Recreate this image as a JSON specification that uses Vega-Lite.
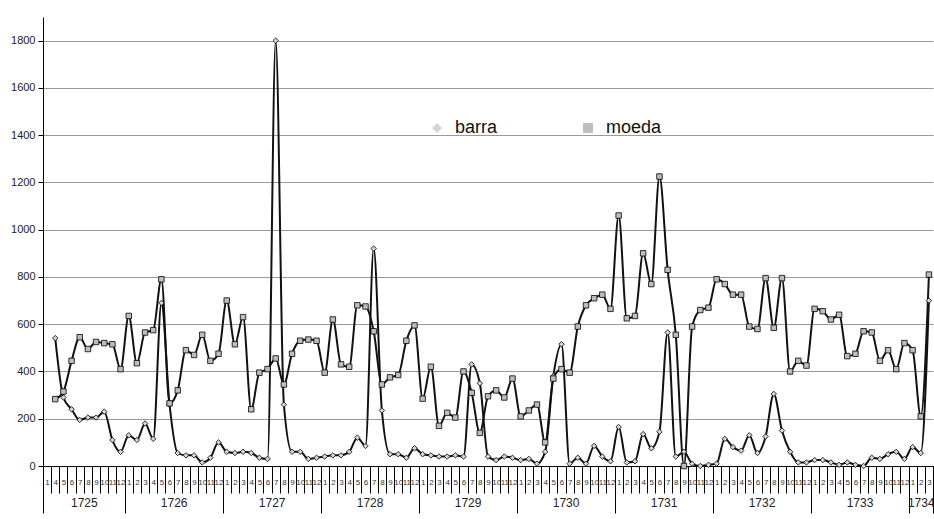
{
  "$schema": "https://vega.github.io/schema/vega-lite/v6.json",
  "width": 890,
  "height": 449,
  "autosize": {"type": "none"},
  "padding": {"left": 43, "top": 17, "right": 1, "bottom": 53},
  "background": "white",
  "config": {
    "font": "Liberation Sans",
    "view": {"stroke": null},
    "axis": {"labelColor": "#222", "tickColor": "#000", "domainColor": "#000"}
  },
  "data": {"values": [
    {"year":1725,"month":4,"i":1,"barra":541,"moeda":283},
    {"year":1725,"month":5,"i":2,"barra":290,"moeda":315},
    {"year":1725,"month":6,"i":3,"barra":240,"moeda":445},
    {"year":1725,"month":7,"i":4,"barra":195,"moeda":545},
    {"year":1725,"month":8,"i":5,"barra":205,"moeda":495},
    {"year":1725,"month":9,"i":6,"barra":205,"moeda":525},
    {"year":1725,"month":10,"i":7,"barra":230,"moeda":520},
    {"year":1725,"month":11,"i":8,"barra":110,"moeda":515},
    {"year":1725,"month":12,"i":9,"barra":60,"moeda":410},
    {"year":1726,"month":1,"i":10,"barra":130,"moeda":635},
    {"year":1726,"month":2,"i":11,"barra":110,"moeda":435},
    {"year":1726,"month":3,"i":12,"barra":180,"moeda":565},
    {"year":1726,"month":4,"i":13,"barra":115,"moeda":575},
    {"year":1726,"month":5,"i":14,"barra":690,"moeda":790},
    {"year":1726,"month":6,"i":15,"barra":260,"moeda":265},
    {"year":1726,"month":7,"i":16,"barra":55,"moeda":320},
    {"year":1726,"month":8,"i":17,"barra":45,"moeda":490},
    {"year":1726,"month":9,"i":18,"barra":45,"moeda":470},
    {"year":1726,"month":10,"i":19,"barra":15,"moeda":555},
    {"year":1726,"month":11,"i":20,"barra":35,"moeda":445},
    {"year":1726,"month":12,"i":21,"barra":100,"moeda":475},
    {"year":1727,"month":1,"i":22,"barra":60,"moeda":700},
    {"year":1727,"month":2,"i":23,"barra":55,"moeda":515},
    {"year":1727,"month":3,"i":24,"barra":60,"moeda":630},
    {"year":1727,"month":4,"i":25,"barra":55,"moeda":240},
    {"year":1727,"month":5,"i":26,"barra":35,"moeda":395},
    {"year":1727,"month":6,"i":27,"barra":30,"moeda":410},
    {"year":1727,"month":7,"i":28,"barra":1800,"moeda":455},
    {"year":1727,"month":8,"i":29,"barra":260,"moeda":345},
    {"year":1727,"month":9,"i":30,"barra":60,"moeda":475},
    {"year":1727,"month":10,"i":31,"barra":60,"moeda":530},
    {"year":1727,"month":11,"i":32,"barra":30,"moeda":535},
    {"year":1727,"month":12,"i":33,"barra":35,"moeda":530},
    {"year":1728,"month":1,"i":34,"barra":40,"moeda":395},
    {"year":1728,"month":2,"i":35,"barra":45,"moeda":620},
    {"year":1728,"month":3,"i":36,"barra":45,"moeda":430},
    {"year":1728,"month":4,"i":37,"barra":60,"moeda":420},
    {"year":1728,"month":5,"i":38,"barra":120,"moeda":680},
    {"year":1728,"month":6,"i":39,"barra":85,"moeda":675},
    {"year":1728,"month":7,"i":40,"barra":920,"moeda":570},
    {"year":1728,"month":8,"i":41,"barra":235,"moeda":345},
    {"year":1728,"month":9,"i":42,"barra":50,"moeda":375},
    {"year":1728,"month":10,"i":43,"barra":50,"moeda":385},
    {"year":1728,"month":11,"i":44,"barra":35,"moeda":530},
    {"year":1728,"month":12,"i":45,"barra":75,"moeda":595},
    {"year":1729,"month":1,"i":46,"barra":50,"moeda":285},
    {"year":1729,"month":2,"i":47,"barra":45,"moeda":420},
    {"year":1729,"month":3,"i":48,"barra":40,"moeda":170},
    {"year":1729,"month":4,"i":49,"barra":40,"moeda":225},
    {"year":1729,"month":5,"i":50,"barra":45,"moeda":205},
    {"year":1729,"month":6,"i":51,"barra":40,"moeda":400},
    {"year":1729,"month":7,"i":52,"barra":430,"moeda":310},
    {"year":1729,"month":8,"i":53,"barra":350,"moeda":140},
    {"year":1729,"month":9,"i":54,"barra":40,"moeda":295},
    {"year":1729,"month":10,"i":55,"barra":25,"moeda":320},
    {"year":1729,"month":11,"i":56,"barra":40,"moeda":290},
    {"year":1729,"month":12,"i":57,"barra":35,"moeda":370},
    {"year":1730,"month":1,"i":58,"barra":25,"moeda":210},
    {"year":1730,"month":2,"i":59,"barra":30,"moeda":235},
    {"year":1730,"month":3,"i":60,"barra":10,"moeda":260},
    {"year":1730,"month":4,"i":61,"barra":60,"moeda":100},
    {"year":1730,"month":5,"i":62,"barra":380,"moeda":370},
    {"year":1730,"month":6,"i":63,"barra":515,"moeda":410},
    {"year":1730,"month":7,"i":64,"barra":10,"moeda":395},
    {"year":1730,"month":8,"i":65,"barra":35,"moeda":590},
    {"year":1730,"month":9,"i":66,"barra":10,"moeda":680},
    {"year":1730,"month":10,"i":67,"barra":85,"moeda":710},
    {"year":1730,"month":11,"i":68,"barra":40,"moeda":725},
    {"year":1730,"month":12,"i":69,"barra":20,"moeda":665},
    {"year":1731,"month":1,"i":70,"barra":165,"moeda":1060},
    {"year":1731,"month":2,"i":71,"barra":15,"moeda":625},
    {"year":1731,"month":3,"i":72,"barra":20,"moeda":635},
    {"year":1731,"month":4,"i":73,"barra":135,"moeda":900},
    {"year":1731,"month":5,"i":74,"barra":75,"moeda":770},
    {"year":1731,"month":6,"i":75,"barra":145,"moeda":1225},
    {"year":1731,"month":7,"i":76,"barra":565,"moeda":830},
    {"year":1731,"month":8,"i":77,"barra":40,"moeda":555},
    {"year":1731,"month":9,"i":78,"barra":60,"moeda":0},
    {"year":1731,"month":10,"i":79,"barra":10,"moeda":590},
    {"year":1731,"month":11,"i":80,"barra":0,"moeda":660},
    {"year":1731,"month":12,"i":81,"barra":5,"moeda":670},
    {"year":1732,"month":1,"i":82,"barra":10,"moeda":790},
    {"year":1732,"month":2,"i":83,"barra":115,"moeda":770},
    {"year":1732,"month":3,"i":84,"barra":80,"moeda":725},
    {"year":1732,"month":4,"i":85,"barra":65,"moeda":725},
    {"year":1732,"month":5,"i":86,"barra":130,"moeda":590},
    {"year":1732,"month":6,"i":87,"barra":55,"moeda":580},
    {"year":1732,"month":7,"i":88,"barra":125,"moeda":795},
    {"year":1732,"month":8,"i":89,"barra":305,"moeda":585},
    {"year":1732,"month":9,"i":90,"barra":150,"moeda":795},
    {"year":1732,"month":10,"i":91,"barra":60,"moeda":400},
    {"year":1732,"month":11,"i":92,"barra":15,"moeda":445},
    {"year":1732,"month":12,"i":93,"barra":15,"moeda":425},
    {"year":1733,"month":1,"i":94,"barra":25,"moeda":665},
    {"year":1733,"month":2,"i":95,"barra":25,"moeda":655},
    {"year":1733,"month":3,"i":96,"barra":15,"moeda":620},
    {"year":1733,"month":4,"i":97,"barra":5,"moeda":640},
    {"year":1733,"month":5,"i":98,"barra":15,"moeda":465},
    {"year":1733,"month":6,"i":99,"barra":5,"moeda":475},
    {"year":1733,"month":7,"i":100,"barra":0,"moeda":570},
    {"year":1733,"month":8,"i":101,"barra":35,"moeda":565},
    {"year":1733,"month":9,"i":102,"barra":30,"moeda":445},
    {"year":1733,"month":10,"i":103,"barra":50,"moeda":490},
    {"year":1733,"month":11,"i":104,"barra":60,"moeda":410},
    {"year":1733,"month":12,"i":105,"barra":30,"moeda":520},
    {"year":1734,"month":1,"i":106,"barra":80,"moeda":490},
    {"year":1734,"month":2,"i":107,"barra":55,"moeda":210},
    {"year":1734,"month":3,"i":108,"barra":700,"moeda":810}
  ]},
  "resolve": {"axis": {"x": "independent"}},
  "layer": [
    {
      "transform": [{"fold": ["barra", "moeda"], "as": ["serie", "valor"]}],
      "mark": {"type": "line", "color": "#111", "strokeWidth": 2, "interpolate": "monotone"},
      "encoding": {
        "x": {"field": "i", "type": "quantitative",
          "scale": {"domain": [-0.5, 108.5], "nice": false, "zero": false},
          "axis": {"title": null, "orient": "bottom", "values": [-0.5,0.5,1.5,2.5,3.5,4.5,5.5,6.5,7.5,8.5,9.5,10.5,11.5,12.5,13.5,14.5,15.5,16.5,17.5,18.5,19.5,20.5,21.5,22.5,23.5,24.5,25.5,26.5,27.5,28.5,29.5,30.5,31.5,32.5,33.5,34.5,35.5,36.5,37.5,38.5,39.5,40.5,41.5,42.5,43.5,44.5,45.5,46.5,47.5,48.5,49.5,50.5,51.5,52.5,53.5,54.5,55.5,56.5,57.5,58.5,59.5,60.5,61.5,62.5,63.5,64.5,65.5,66.5,67.5,68.5,69.5,70.5,71.5,72.5,73.5,74.5,75.5,76.5,77.5,78.5,79.5,80.5,81.5,82.5,83.5,84.5,85.5,86.5,87.5,88.5,89.5,90.5,91.5,92.5,93.5,94.5,95.5,96.5,97.5,98.5,99.5,100.5,101.5,102.5,103.5,104.5,105.5,106.5,107.5,108.5],
            "labels": false, "tickSize": 27, "tickWidth": 1, "grid": false, "domainWidth": 1}
        },
        "y": {"field": "valor", "type": "quantitative",
          "scale": {"domain": [0, 1900], "nice": false},
          "axis": {"title": null, "values": [0,200,400,600,800,1000,1200,1400,1600,1800], "format": "d",
            "grid": true, "gridColor": "#9a9a9a", "gridWidth": 1, "tickSize": 5, "labelFontSize": 11, "labelPadding": 3, "domainWidth": 1}
        },
        "detail": {"field": "serie"}
      }
    },
    {
      "transform": [{"fold": ["barra", "moeda"], "as": ["serie", "valor"]}],
      "mark": {"type": "point", "filled": true, "stroke": "#000", "strokeWidth": 0.8, "size": 30, "opacity": 1},
      "encoding": {
        "x": {"field": "i", "type": "quantitative",
          "axis": {"title": null, "orient": "bottom", "values": [0,1,2,3,4,5,6,7,8,9,10,11,12,13,14,15,16,17,18,19,20,21,22,23,24,25,26,27,28,29,30,31,32,33,34,35,36,37,38,39,40,41,42,43,44,45,46,47,48,49,50,51,52,53,54,55,56,57,58,59,60,61,62,63,64,65,66,67,68,69,70,71,72,73,74,75,76,77,78,79,80,81,82,83,84,85,86,87,88,89,90,91,92,93,94,95,96,97,98,99,100,101,102,103,104,105,106,107,108],
            "ticks": false, "tickSize": 0, "domain": false, "grid": false, "labelFontSize": 8, "labelPadding": 12, "labelOverlap": false, "labelBound": false, "labelFlush": false,
            "labelFont": "Liberation Sans Narrow, Liberation Sans", "labelColor": "#333",
            "labelExpr": "datum.value == 0 ? '1' : (datum.value < 10 ? '' + (datum.value + 3) : '' + ((datum.value - 10) % 12 + 1))"}
        },
        "y": {"field": "valor", "type": "quantitative"},
        "shape": {"field": "serie", "type": "nominal",
          "scale": {"domain": ["barra", "moeda"], "range": ["diamond", "square"]},
          "legend": {"title": null, "orient": "none", "legendX": 385, "legendY": 102, "direction": "horizontal",
            "symbolSize": 100, "labelFontSize": 18, "labelOffset": 9, "columnPadding": 81, "padding": 0,
            "symbolStrokeColor": "#000", "symbolStrokeWidth": 1.3, "labelColor": "#111"}
        },
        "fill": {"field": "serie", "type": "nominal",
          "scale": {"domain": ["barra", "moeda"], "range": ["#d4d4d4", "#bdbdbd"]},
          "legend": null
        }
      }
    },
    {
      "mark": {"type": "rule", "opacity": 0},
      "encoding": {
        "x": {"field": "i", "type": "quantitative",
          "axis": {"title": null, "orient": "bottom", "values": [-0.5, 9.5, 21.5, 33.5, 45.5, 57.5, 69.5, 81.5, 93.5, 105.5, 108.5],
            "labels": false, "tickSize": 47, "tickWidth": 1, "domain": false, "grid": false}
        }
      }
    },
    {
      "mark": {"type": "rule", "opacity": 0},
      "encoding": {
        "x": {"field": "i", "type": "quantitative",
          "axis": {"title": null, "orient": "bottom", "values": [4.5, 15.5, 27.5, 39.5, 51.5, 63.5, 75.5, 87.5, 99.5, 107],
            "ticks": false, "tickSize": 0, "domain": false, "grid": false, "labelFontSize": 12, "labelPadding": 31,
            "labelOverlap": false, "labelBound": false, "labelFlush": false,
            "labelExpr": "datum.value < 10 ? '1725' : '' + (1726 + floor((datum.value - 10) / 12))"}
        }
      }
    }
  ]
}
